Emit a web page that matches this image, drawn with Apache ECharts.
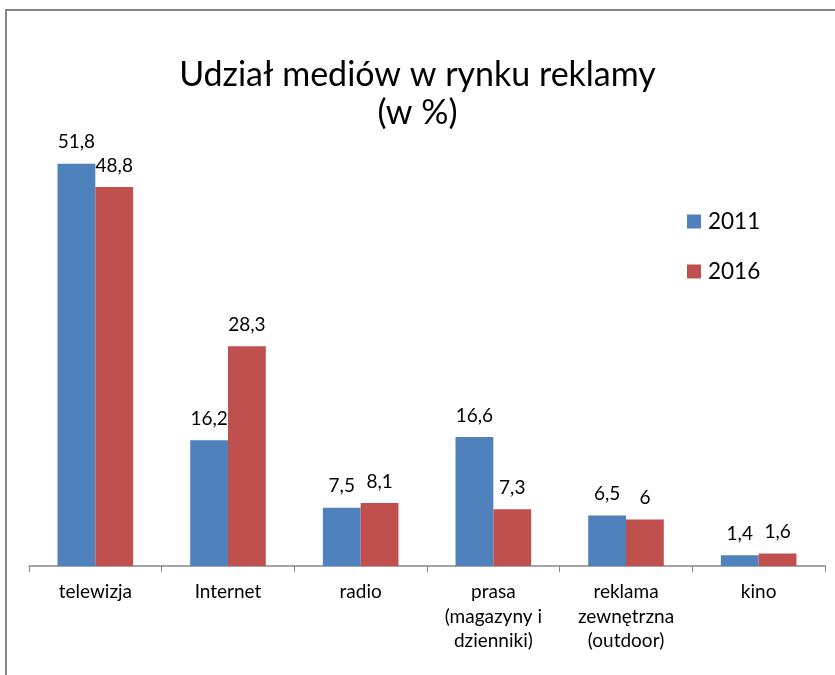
<!DOCTYPE html>
<html>
<head>
<meta charset="utf-8">
<script src="https://cdn.jsdelivr.net/npm/echarts@6/dist/echarts.min.js"></script>
<style>
  html, body { margin: 0; padding: 0; background: #fff; }
  #chart { width: 835px; height: 675px; }
</style>
</head>
<body>
<div id="chart"></div>
<script>
const categories = ['telewizja', 'Internet', 'radio', 'prasa\n(magazyny i\ndzienniki)', 'reklama\nzewnętrzna\n(outdoor)', 'kino'];
const values2011 = [51.8, 16.2, 7.5, 16.6, 6.5, 1.4];
const values2016 = [48.8, 28.3, 8.1, 7.3, 6, 1.6];
const seriesNames = ['2011', '2016'];

const FONT = 'Lato, "Open Sans", sans-serif';
const chart = echarts.init(document.getElementById('chart'));

const fmt = p => String(p.value).replace('.', ',');

chart.setOption({
  animation: false,
  color: ['#4F81BD', '#C0504D'],
  textStyle: { fontFamily: FONT },
  title: {
    text: 'Udział mediów w rynku reklamy\n(w %)',
    left: 'center',
    top: 51,
    textStyle: { fontFamily: FONT, fontSize: 34, fontWeight: 'normal', color: '#000', lineHeight: 38 }
  },
  legend: {
    orient: 'vertical',
    left: 682,
    top: 205,
    itemWidth: 14,
    itemHeight: 14,
    itemGap: 27,
    icon: 'rect',
    textStyle: { fontFamily: FONT, fontSize: 22.5, color: '#000', padding: [0, 0, 0, 2] },
    data: seriesNames
  },
  graphic: [{
    type: 'rect',
    shape: { x: 6, y: 10, width: 1000, height: 1000 },
    style: { fill: 'none', stroke: '#868686', lineWidth: 2 },
    silent: true
  }],
  grid: { left: 29, right: 10, top: 100, bottom: 109 },
  xAxis: {
    type: 'category',
    data: categories,
    axisLine: { lineStyle: { color: '#868686', width: 1.5 } },
    axisTick: { show: true, alignWithLabel: false, length: 6, lineStyle: { color: '#868686' } },
    axisLabel: { fontFamily: FONT, fontSize: 19, color: '#000', margin: 14, lineHeight: 24.5, interval: 0 }
  },
  yAxis: {
    type: 'value',
    min: 0,
    max: 60,
    show: false,
    splitLine: { show: false }
  },
  series: [
    {
      name: seriesNames[0],
      type: 'bar',
      data: values2011,
      barGap: '0%',
      barCategoryGap: '43%',
      label: { show: true, position: 'top', distance: 12, fontFamily: FONT, fontSize: 19, color: '#000', formatter: fmt }
    },
    {
      name: seriesNames[1],
      type: 'bar',
      data: values2016,
      barGap: '0%',
      barCategoryGap: '43%',
      label: { show: true, position: 'top', distance: 12, fontFamily: FONT, fontSize: 19, color: '#000', formatter: fmt }
    }
  ]
});
</script>
</body>
</html>
